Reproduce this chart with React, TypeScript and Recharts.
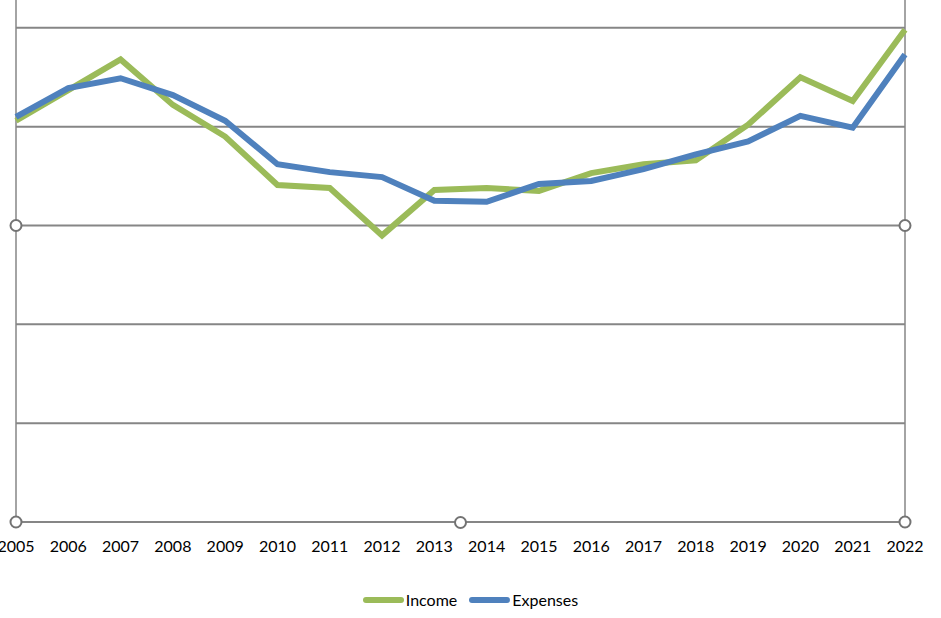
import { LineChart, Line, XAxis, YAxis, CartesianGrid, ReferenceLine, ReferenceDot } from 'recharts';

const years = ['2005', '2006', '2007', '2008', '2009', '2010', '2011', '2012', '2013', '2014', '2015', '2016', '2017', '2018', '2019', '2020', '2021', '2022'];
const income = [40.6, 43.7, 46.8, 42.2, 39.0, 34.1, 33.8, 29.0, 33.6, 33.8, 33.5, 35.3, 36.2, 36.6, 40.2, 45.0, 42.6, 49.8];
const expenses = [41.0, 43.9, 44.9, 43.2, 40.6, 36.2, 35.4, 34.9, 32.5, 32.4, 34.2, 34.5, 35.7, 37.2, 38.5, 41.1, 39.9, 47.3];
const yTicks = [0, 10, 20, 30, 40, 50, 60];

const series = [
  { key: 'income', name: 'Income', color: '#9BBB59' },
  { key: 'expenses', name: 'Expenses', color: '#4F81BD' },
];

const data = years.map((year, i) => ({ year, income: income[i], expenses: expenses[i] }));

const GRID = '#868686';
const HANDLE = '#737373';
const FONT = 'Lato, "Open Sans", sans-serif';

export default function App() {
  const first = years[0];
  const last = years[years.length - 1];
  return (
    <div
      style={{
        position: 'fixed',
        left: 0,
        top: 0,
        width: 941,
        height: 618,
        overflow: 'hidden',
        background: '#fff',
        fontFamily: FONT,
      }}
    >
      <div style={{ position: 'absolute', left: 0, top: -80 }}>
        <LineChart width={941} height={650} data={data} margin={{ top: 9, right: 36, bottom: 18, left: 16 }}>
          <CartesianGrid vertical={false} stroke={GRID} strokeWidth={2} />
          <XAxis
            dataKey="year"
            axisLine={{ stroke: GRID, strokeWidth: 2 }}
            tickLine={false}
            tickMargin={13}
            height={30}
            interval={0}
            tick={{ fill: '#000', fontSize: 16, fontFamily: FONT }}
          />
          <YAxis hide domain={[0, 60]} ticks={yTicks} />
          <ReferenceLine x={first} stroke={GRID} strokeWidth={1.5} />
          <ReferenceLine x={last} stroke={GRID} strokeWidth={1.5} />
          {series.map((s) => (
            <Line
              key={s.key}
              dataKey={s.key}
              name={s.name}
              stroke={s.color}
              strokeWidth={6}
              dot={false}
              activeDot={false}
              isAnimationActive={false}
            />
          ))}
          <ReferenceDot x={first} y={30} r={5.5} fill="#fff" stroke={HANDLE} strokeWidth={2} />
          <ReferenceDot x={last} y={30} r={5.5} fill="#fff" stroke={HANDLE} strokeWidth={2} />
          <ReferenceDot x={first} y={0} r={5.5} fill="#fff" stroke={HANDLE} strokeWidth={2} />
          <ReferenceDot x={last} y={0} r={5.5} fill="#fff" stroke={HANDLE} strokeWidth={2} />
        </LineChart>
      </div>
      <div
        style={{
          position: 'absolute',
          left: 454,
          top: 516,
          width: 9,
          height: 9,
          borderRadius: '50%',
          border: `2px solid ${HANDLE}`,
          background: '#fff',
        }}
      />
      <div
        style={{
          position: 'absolute',
          left: 0,
          top: 590,
          width: 941,
          display: 'flex',
          justifyContent: 'center',
          alignItems: 'center',
          fontSize: 16,
          color: '#000',
          gap: 12,
          lineHeight: '20px',
        }}
      >
        {series.map((s) => (
          <div key={s.key} style={{ display: 'flex', alignItems: 'center', gap: 2 }}>
            <span style={{ display: 'inline-block', width: 41, height: 6, borderRadius: 3, background: s.color }} />
            <span>{s.name}</span>
          </div>
        ))}
      </div>
    </div>
  );
}
